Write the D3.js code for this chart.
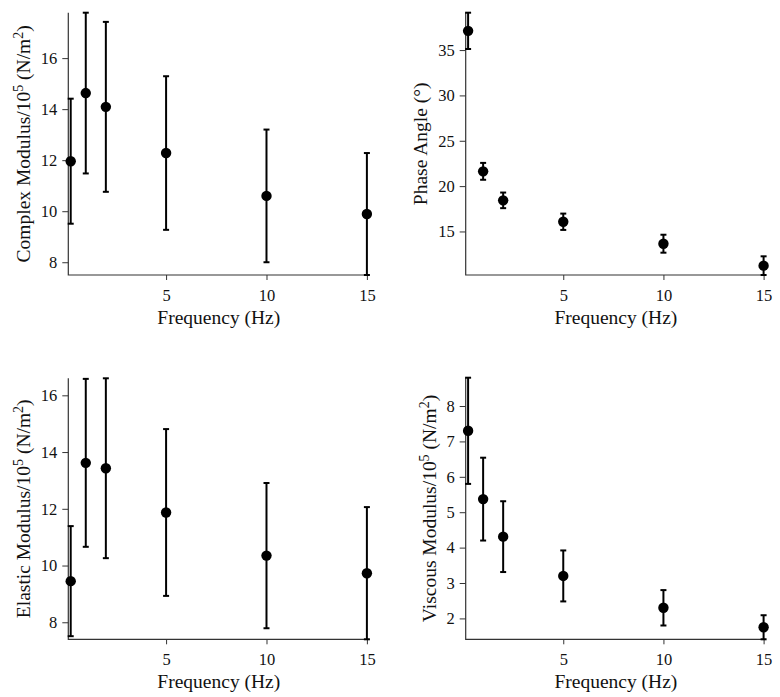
<!DOCTYPE html>
<html>
<head>
<meta charset="utf-8">
<script src="https://cdn.jsdelivr.net/npm/d3@7"></script>
<style>
  html, body { margin: 0; padding: 0; background: #fff; }
  svg { display: block; }
  text { font-family: "Liberation Serif", "Times New Roman", serif; fill: #111; }
</style>
</head>
<body>
<svg id="chart" width="780" height="697"></svg>
<script>
// ---- data ----
const frequency = [0.25, 1, 2, 5, 10, 15];
const xTicks = [5, 10, 15];

const complexMean = [11.96, 14.63, 14.09, 12.28, 10.60, 9.89];
const complexErr  = [2.45, 3.15, 3.33, 3.01, 2.60, 2.39];
const complexTicks = [8, 10, 12, 14, 16];

const phaseMean = [37.12, 21.63, 18.43, 16.07, 13.65, 11.23];
const phaseErr  = [2.00, 0.93, 0.86, 0.90, 0.99, 1.03];
const phaseTicks = [15, 20, 25, 30, 35];

const elasticMean = [9.45, 13.62, 13.43, 11.87, 10.35, 9.73];
const elasticErr  = [1.94, 2.96, 3.17, 2.94, 2.56, 2.33];
const elasticTicks = [8, 10, 12, 14, 16];

const viscousMean = [7.30, 5.37, 4.31, 3.20, 2.30, 1.75];
const viscousErr  = [1.50, 1.17, 1.00, 0.72, 0.50, 0.34];
const viscousTicks = [2, 3, 4, 5, 6, 7, 8];

// ---- layout ----
const svg = d3.select("#chart");
const xDomain = [0.13, 15.12];

const panels = [
  { mean: complexMean, err: complexErr, ticks: complexTicks,
    x0: 68.3, x1: 369.3, y0: 275, y1: 12.7, labelX: 30,
    label: [["Complex Modulus/10", 0], ["5", 1], [" (N/m", 0], ["2", 1], [")", 0]] },
  { mean: phaseMean, err: phaseErr, ticks: phaseTicks,
    x0: 465.7, x1: 766, y0: 275, y1: 12.7, labelX: 426.7,
    label: [["Phase Angle (°)", 0]] },
  { mean: elasticMean, err: elasticErr, ticks: elasticTicks,
    x0: 68.3, x1: 369.3, y0: 639.3, y1: 378.3, labelX: 30,
    label: [["Elastic Modulus/10", 0], ["5", 1], [" (N/m", 0], ["2", 1], [")", 0]] },
  { mean: viscousMean, err: viscousErr, ticks: viscousTicks,
    x0: 465.7, x1: 766, y0: 639.3, y1: 377.7, labelX: 435.7,
    label: [["Viscous Modulus/10", 0], ["5", 1], [" (N/m", 0], ["2", 1], [")", 0]] }
];

panels.forEach(p => {
  const rows = frequency.map((f, i) => ({ f, m: p.mean[i], e: p.err[i] }));
  const lo = d3.min(rows, d => d.m - d.e);
  const hi = d3.max(rows, d => d.m + d.e);
  const x = d3.scaleLinear().domain(xDomain).range([p.x0, p.x1]);
  const y = d3.scaleLinear().domain([lo, hi]).range([p.y0, p.y1]);

  const g = svg.append("g");

  // axes
  const xAxis = d3.axisBottom(x).tickValues(xTicks).tickSize(5).tickPadding(5).tickFormat(d3.format("d"));
  const yAxis = d3.axisLeft(y).tickValues(p.ticks).tickSize(6).tickPadding(5).tickFormat(d3.format("d"));

  const gx = g.append("g").attr("transform", `translate(0,${p.y0})`).call(xAxis);
  const gy = g.append("g").attr("transform", `translate(${p.x0},0)`).call(yAxis);
  [gx, gy].forEach(a => {
    a.select(".domain").remove();
    a.selectAll(".tick line").attr("stroke", "#333").attr("stroke-width", 1);
    a.selectAll(".tick text").style("font-family", '"Liberation Serif", serif')
      .style("font-size", "16.5px").attr("fill", "#111");
  });
  gx.selectAll(".tick text").attr("dy", "0.95em");
  // L-shaped frame
  g.append("path")
    .attr("d", `M${p.x0},${p.y1}V${p.y0}H${p.x1}`)
    .attr("fill", "none").attr("stroke", "#333").attr("stroke-width", 1.2);

  // error bars
  const cap = 3;
  const eb = g.append("g").attr("stroke", "#000").attr("stroke-width", 2).attr("fill", "none");
  rows.forEach(d => {
    const cx = x(d.f), yt = y(d.m + d.e), yb = y(d.m - d.e);
    eb.append("line").attr("x1", cx).attr("x2", cx).attr("y1", yt).attr("y2", yb);
    eb.append("line").attr("x1", cx - cap).attr("x2", cx + cap).attr("y1", yt).attr("y2", yt);
    eb.append("line").attr("x1", cx - cap).attr("x2", cx + cap).attr("y1", yb).attr("y2", yb);
  });

  // points
  g.append("g").selectAll("circle").data(rows).join("circle")
    .attr("cx", d => x(d.f)).attr("cy", d => y(d.m)).attr("r", 5.2).attr("fill", "#000");

  // x title
  g.append("text")
    .attr("x", (p.x0 + p.x1) / 2).attr("y", p.y0 + 49)
    .attr("text-anchor", "middle").style("font-size", "19.5px")
    .text("Frequency (Hz)");

  // y title
  const cy = (p.y0 + p.y1) / 2;
  const t = g.append("text")
    .attr("transform", `translate(${p.labelX},${cy}) rotate(-90)`)
    .attr("text-anchor", "middle").style("font-size", "19.5px");
  p.label.forEach(([s, sup]) => {
    const ts = t.append("tspan").text(s);
    if (sup) ts.attr("baseline-shift", "super").style("font-size", "14px");
  });
});
</script>
</body>
</html>
